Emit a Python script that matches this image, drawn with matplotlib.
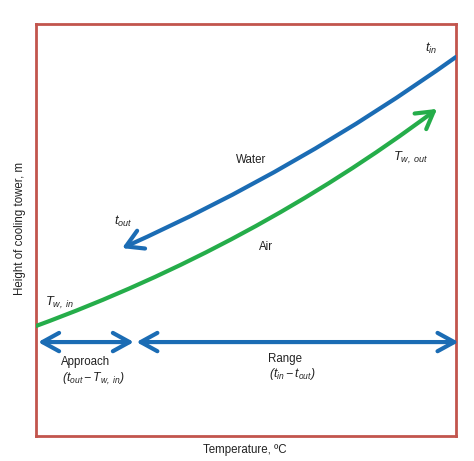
import matplotlib
matplotlib.use("Agg")
import matplotlib.pyplot as plt
from matplotlib.patches import FancyArrowPatch

plt.rcParams['font.family'] = ['Liberation Sans', 'DejaVu Sans']
plt.rcParams['mathtext.fontset'] = 'custom'
plt.rcParams['mathtext.rm'] = 'Liberation Sans:italic'
plt.rcParams['mathtext.it'] = 'Liberation Sans:italic'
plt.rcParams['mathtext.bf'] = 'Liberation Sans:bold'

# Water line: from t_in (top right) to t_out (arrow tip), with its bend
water_x = [100.0, 20.5]
water_y = [92.0, 45.6]
water_bend = -0.05
# Air line: from T_w,in (left edge) to T_w,out (arrow tip), with its bend
air_x = [0.0, 95.5]
air_y = [26.7, 79.4]
air_bend = 0.073
# Approach / Range double arrows
approach_x = [0.5, 23.3]
range_x = [23.9, 100.6]
bracket_y = 22.8

blue = '#1b6cb4'
green = '#25ad4a'
frame = '#c2554d'

fig = plt.figure(figsize=(4.74, 4.61), dpi=100)
ax = fig.add_axes([36/474, 25/461, 420/474, 412/461])
ax.set_xlim(0, 100)
ax.set_ylim(0, 100)
ax.set_xticks([])
ax.set_yticks([])
for s in ax.spines.values():
    s.set_color(frame)
    s.set_linewidth(2.0)

def curve(xs, ys, bend, color):
    a = FancyArrowPatch((xs[0], ys[0]), (xs[1], ys[1]),
                        connectionstyle=f'arc3,rad={bend}',
                        arrowstyle='->,head_length=0.6,head_width=0.35',
                        mutation_scale=20, color=color, lw=3,
                        capstyle='round', joinstyle='round', shrinkA=0, shrinkB=0,
                        zorder=4)
    ax.add_patch(a)

curve(water_x, water_y, water_bend, blue)
curve(air_x, air_y, air_bend, green)

for xs in (approach_x, range_x):
    a = FancyArrowPatch((xs[0], bracket_y), (xs[1], bracket_y),
                        arrowstyle='<->,head_length=0.6,head_width=0.33',
                        mutation_scale=20, color=blue, lw=3,
                        capstyle='round', joinstyle='round', shrinkA=0, shrinkB=0,
                        clip_on=False, zorder=4)
    ax.add_patch(a)

fs = 8.3
tc = '#222222'
ax.text(51.2, 67.0, 'Water', ha='center', va='center', fontsize=fs, color=tc)
ax.text(54.8, 45.9, 'Air', ha='center', va='center', fontsize=fs, color=tc)
ax.text(20.8, 52.0, r'$t_{out}$', ha='center', va='center', fontsize=fs + 1, color=tc)
ax.text(94.0, 94.0, r'$t_{in}$', ha='center', va='center', fontsize=fs + 1, color=tc)
ax.text(89.3, 67.5, r'$T_{w,\ out}$', ha='center', va='center', fontsize=fs + 1, color=tc)
ax.text(5.7, 32.3, r'$T_{w,\ in}$', ha='center', va='center', fontsize=fs + 1, color=tc)
ax.text(5.9, 18.0, 'Approach', ha='left', va='center', fontsize=fs, color=tc)
ax.text(6.1, 13.8, r'$(t_{out} - T_{w,\ in})$', ha='left', va='center', fontsize=fs + 0.5, color=tc)
ax.text(55.2, 18.7, 'Range', ha='left', va='center', fontsize=fs, color=tc)
ax.text(55.4, 15.0, r'$(t_{in} - t_{out})$', ha='left', va='center', fontsize=fs + 0.5, color=tc)

fig.text(245/474, 1 - 450/461, 'Temperature, ºC', ha='center', va='center', fontsize=fs, color=tc)
fig.text(20/474, 1 - 228/461, 'Height of cooling tower, m', ha='center', va='center',
         rotation=90, fontsize=fs, color=tc)

fig.savefig('out.png', dpi=100)
